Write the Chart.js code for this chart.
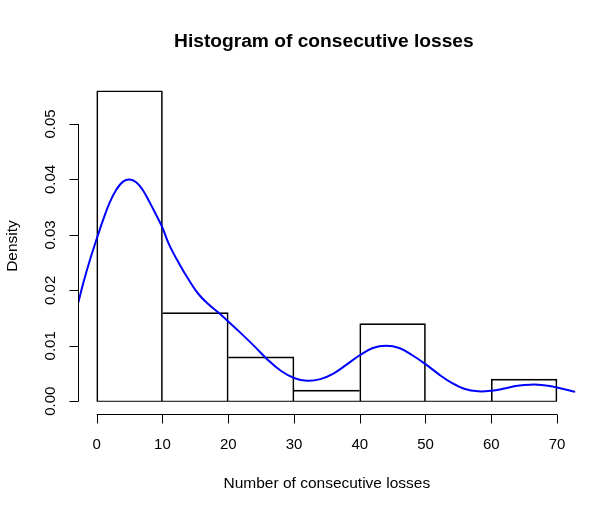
<!DOCTYPE html>
<html>
<head>
<meta charset="utf-8">
<script src="https://cdn.jsdelivr.net/npm/chart.js@4/dist/chart.umd.min.js"></script>
<style>
  html, body { margin: 0; padding: 0; background: #fff; }
  #wrap { width: 616px; height: 512px; }
</style>
</head>
<body>
<div id="wrap"><canvas id="hist" width="616" height="512"></canvas></div>
<script>
// histogram bins (centres) and densities
const binMids = [5, 15, 25, 35, 45, 55, 65];
const densities = [0.056, 0.016, 0.008, 0.002, 0.014, 0, 0.004];
const baseLine = [0, 70];

// kernel density curve
const kdeX = [-2.8, -2, -1, 0, 1, 2, 3, 4, 5, 6, 7, 8, 9, 10, 11, 12.5, 14, 15.5, 17, 18.5, 20,
  22, 24, 26, 28, 30, 32, 34, 36, 38, 40, 42, 44, 46, 48, 50, 52, 54, 56, 58, 60,
  62, 64, 66, 68, 70, 72.8];
const kdeY = [0.0178, 0.0215, 0.0256, 0.0293, 0.0328, 0.0359, 0.0382, 0.0396, 0.0400, 0.0395,
  0.0381, 0.0360, 0.0337, 0.0313, 0.0283, 0.0249, 0.0219, 0.0193, 0.0175, 0.0160, 0.0144,
  0.0122, 0.0099, 0.0075, 0.0055, 0.0042, 0.0037, 0.0040, 0.0050, 0.0066, 0.0083,
  0.0096, 0.0100, 0.0096, 0.0083, 0.0067, 0.0049, 0.0033, 0.0022, 0.0018, 0.0019,
  0.0023, 0.0028, 0.0030, 0.0029, 0.0025, 0.0017];

// axis ticks
const xTicks = [0, 10, 20, 30, 40, 50, 60, 70];
const xTickLabels = ['0', '10', '20', '30', '40', '50', '60', '70'];
const yTicks = [0, 0.01, 0.02, 0.03, 0.04, 0.05];
const yTickLabels = ['0.00', '0.01', '0.02', '0.03', '0.04', '0.05'];

const titleText = 'Histogram of consecutive losses';
const xTitle = 'Number of consecutive losses';
const yTitle = 'Density';

const FONT = '"Liberation Sans", Arial, sans-serif';

// R style axes, drawn away from the bars
const rAxes = {
  id: 'rAxes',
  afterDraw(chart) {
    const ctx = chart.ctx;
    const xs = chart.scales.x, ys = chart.scales.y;
    const area = chart.chartArea;
    const midX = (area.left + area.right) / 2;
    const midY = (area.top + area.bottom) / 2;
    const tick = 9;

    ctx.save();
    ctx.strokeStyle = '#000';
    ctx.fillStyle = '#000';
    ctx.lineWidth = 1;

    // x axis
    const ay = Math.round(area.bottom) + 0.5;
    ctx.beginPath();
    ctx.moveTo(xs.getPixelForValue(xTicks[0]), ay);
    ctx.lineTo(xs.getPixelForValue(xTicks[xTicks.length - 1]), ay);
    xTicks.forEach(v => {
      const px = Math.round(xs.getPixelForValue(v)) + 0.5;
      ctx.moveTo(px, ay);
      ctx.lineTo(px, ay + tick);
    });
    ctx.stroke();
    ctx.font = '15px ' + FONT;
    ctx.textAlign = 'center';
    ctx.textBaseline = 'alphabetic';
    xTicks.forEach((v, i) => {
      ctx.fillText(xTickLabels[i], xs.getPixelForValue(v), 448.5);
    });

    // y axis
    const ax = Math.round(area.left) + 0.5;
    ctx.beginPath();
    ctx.moveTo(ax, ys.getPixelForValue(yTicks[0]));
    ctx.lineTo(ax, ys.getPixelForValue(yTicks[yTicks.length - 1]));
    yTicks.forEach(v => {
      const py = Math.round(ys.getPixelForValue(v)) + 0.5;
      ctx.moveTo(ax, py);
      ctx.lineTo(ax - tick, py);
    });
    ctx.stroke();
    yTicks.forEach((v, i) => {
      ctx.save();
      ctx.translate(55, ys.getPixelForValue(v));
      ctx.rotate(-Math.PI / 2);
      ctx.fillText(yTickLabels[i], 0, 0);
      ctx.restore();
    });

    // titles
    ctx.font = '15.5px ' + FONT;
    ctx.fillText(xTitle, midX, 487.5);
    ctx.save();
    ctx.translate(17, midY);
    ctx.rotate(-Math.PI / 2);
    ctx.fillText(yTitle, 0, 0);
    ctx.restore();

    ctx.font = 'bold 19.2px ' + FONT;
    ctx.fillText(titleText, midX - 3, 47);
    ctx.restore();
  }
};

new Chart(document.getElementById('hist'), {
  data: {
    datasets: [
      {
        type: 'line',
        data: kdeX.map((x, i) => ({ x: x, y: kdeY[i] })),
        borderColor: '#0000ff',
        borderWidth: 2,
        pointRadius: 0,
        tension: 0.4,
        fill: false,
        order: 0
      },
      {
        type: 'bar',
        data: binMids.map((x, i) => ({ x: x, y: densities[i] })),
        backgroundColor: 'rgba(0,0,0,0)',
        borderColor: '#000',
        borderSkipped: false,
        borderWidth: c => {
          const i = c.dataIndex, h = densities;
          return {
            top: 1,
            bottom: 0,
            left: (i > 0 && h[i - 1] >= h[i]) ? 0 : 1,
            right: (i < h.length - 1 && h[i + 1] > h[i]) ? 0 : 1
          };
        },
        barPercentage: 1,
        categoryPercentage: 1,
        order: 2
      },
      {
        type: 'line',
        data: baseLine.map(x => ({ x: x, y: 0 })),
        borderColor: '#000',
        borderWidth: 1,
        pointRadius: 0,
        order: 1
      }
    ]
  },
  options: {
    responsive: false,
    animation: false,
    devicePixelRatio: 1,
    layout: { padding: { left: 78.3, right: 40.6, top: 78.3, bottom: 98.3 } },
    plugins: {
      legend: { display: false },
      title: { display: false },
      tooltip: { enabled: false }
    },
    scales: {
      x: { type: 'linear', min: -2.8, max: 72.8, display: false, offset: false },
      y: { type: 'linear', min: -0.00224, max: 0.05824, display: false }
    }
  },
  plugins: [rAxes]
});
</script>
</body>
</html>
